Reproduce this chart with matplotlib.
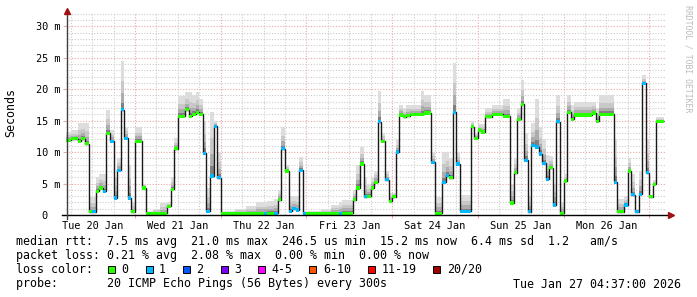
import numpy as np
import matplotlib
# headless run, no display
matplotlib.use('Agg')
import matplotlib.pyplot as plt
from matplotlib.patches import Rectangle

# hours since Tue 20 Jan 00:00, start of each step of the median rtt
step_start = [4, 6, 8, 9, 10, 11, 12, 13, 14, 15,
              16, 17, 18, 19, 20, 21, 22, 23, 24, 26,
              27, 29, 31, 33, 34, 35, 36, 38, 39, 40,
              41, 42, 43, 44, 45, 46, 47, 48, 52, 55,
              58, 60, 61, 63, 64, 65, 66, 67, 68, 69,
              70, 71, 72, 76, 79, 81, 82, 85, 86, 87,
              88, 89, 90, 91, 92, 93, 94, 95, 96, 97,
              98, 99, 100, 101, 104, 105, 107, 108, 110, 111,
              112, 113, 114, 115, 118, 119, 120, 121, 122, 124,
              127, 129, 130, 131, 132, 133, 134, 135, 136, 137,
              138, 139, 140, 141, 142, 143, 144, 145, 146, 147,
              152, 153, 154, 158, 159, 161, 162, 163, 164, 165,
              166, 167, 168, 169, 170]
step_end = 172

# median rtt in ms
median_ms = [11.9, 12.1, 11.7, 12.1, 11.3, 0.5, 0.5, 3.8, 4.3, 3.8,
             13.0, 11.7, 2.7, 7.1, 16.7, 12.2, 2.7, 0.5, 11.7, 4.3,
             0.3, 0.3, 0.3, 1.4, 4.1, 10.5, 15.7, 16.7, 15.7, 16.0,
             16.3, 16.0, 9.8, 0.6, 6.2, 14.1, 5.9, 0.3, 0.3, 0.3,
             0.3, 0.3, 0.3, 0.3, 2.4, 10.5, 7.0, 0.6, 1.0, 0.8,
             7.1, 0.3, 0.3, 0.3, 0.3, 0.3, 0.3, 2.4, 4.3, 8.1,
             2.9, 3.0, 4.3, 5.2, 14.8, 11.7, 5.6, 2.2, 2.9, 10.0,
             15.9, 15.6, 15.8, 16.0, 16.0, 16.2, 8.4, 0.3, 5.2, 6.3,
             5.9, 16.3, 8.1, 0.6, 14.0, 12.2, 13.5, 13.2, 15.6, 16.0,
             15.7, 1.9, 6.7, 15.2, 17.6, 8.7, 0.5, 11.1, 10.8, 9.7,
             8.2, 5.7, 7.5, 1.6, 14.8, 0.3, 5.4, 16.3, 15.2, 15.9,
             16.2, 14.9, 16.0, 5.2, 0.5, 1.6, 7.0, 3.2, 0.5, 3.3,
             20.9, 6.7, 2.9, 4.9, 14.9]

# highest ping of each step (top of the smoke) in ms
smoke_top_ms = [13.2, 13.5, 14.6, 14.6, 14.6, 2.9, 2.9, 6.0, 6.5, 6.5,
                16.7, 13.5, 6.0, 9.0, 24.4, 14.0, 8.0, 2.0, 14.0, 5.0,
                0.6, 1.0, 1.9, 2.0, 6.0, 12.2, 18.9, 19.5, 19.5, 19.0,
                19.5, 18.5, 15.0, 4.3, 16.3, 15.0, 10.0, 0.6, 1.0, 1.4,
                2.0, 2.0, 2.3, 2.5, 4.0, 14.0, 8.0, 3.0, 3.0, 3.0,
                9.2, 0.6, 0.6, 0.9, 1.6, 2.0, 2.4, 4.0, 8.0, 10.8,
                6.0, 5.0, 6.0, 7.0, 19.7, 13.0, 7.0, 3.5, 3.5, 12.0,
                17.5, 17.0, 17.5, 17.5, 19.7, 19.0, 10.0, 2.9, 10.0, 10.0,
                9.0, 24.1, 10.0, 3.2, 15.0, 13.0, 14.5, 14.5, 17.0, 17.5,
                18.4, 5.0, 9.0, 17.0, 21.4, 13.0, 3.0, 14.6, 18.4, 14.0,
                12.0, 9.5, 9.3, 5.0, 19.0, 2.0, 6.5, 19.0, 17.5, 18.0,
                18.0, 17.0, 19.0, 12.0, 2.5, 3.0, 9.0, 6.5, 1.0, 7.0,
                22.2, 12.0, 3.0, 5.5, 15.5]

# lost pings (out of 20) per step
loss_pings = [0, 0, 0, 0, 0, 0, 1, 0, 0, 1,
              0, 1, 1, 1, 1, 1, 1, 0, 0, 0,
              0, 0, 0, 0, 0, 0, 0, 0, 0, 0,
              0, 0, 1, 1, 1, 1, 1, 0, 0, 0,
              0, 1, 0, 1, 0, 1, 0, 1, 1, 1,
              1, 1, 0, 0, 0, 1, 0, 0, 0, 0,
              1, 0, 0, 0, 1, 0, 1, 0, 0, 1,
              0, 0, 0, 0, 0, 0, 1, 0, 1, 1,
              0, 1, 1, 1, 0, 0, 0, 0, 0, 0,
              0, 0, 0, 0, 0, 1, 1, 1, 1, 1,
              1, 1, 0, 1, 1, 0, 0, 0, 0, 0,
              0, 0, 0, 1, 0, 1, 0, 1, 1, 1,
              1, 1, 0, 0, 0]

day_labels = ['Tue 20 Jan', 'Wed 21 Jan', 'Thu 22 Jan', 'Fri 23 Jan',
              'Sat 24 Jan', 'Sun 25 Jan', 'Mon 26 Jan']
y_ticks = [0, 5, 10, 15, 20, 25, 30]
y_labels = ['0  ', '5 m', '10 m', '15 m', '20 m', '25 m', '30 m']

loss_names = ['0', '1', '2', '3', '4-5', '6-10', '11-19', '20/20']
loss_colors = ['#26ff00', '#00b8ff', '#0059ff', '#7e00ff',
               '#ff00ff', '#ff5500', '#ff0000', '#a10000']

line_rtt = 'median rtt:  7.5 ms avg  21.0 ms max  246.5 us min  15.2 ms now  6.4 ms sd  1.2   am/s'
line_loss = 'packet loss: 0.21 % avg  2.08 % max  0.00 % min  0.00 % now'
line_probe = 'probe:       20 ICMP Echo Pings (56 Bytes) every 300s'
stamp = 'Tue Jan 27 04:37:00 2026'

W, H = 697, 297
MONO = 'DejaVu Sans Mono'
plt.rcParams['font.family'] = MONO

fig = plt.figure(figsize=(W / 100, H / 100), dpi=100)
fig.patch.set_facecolor('white')
ax = fig.add_axes([66 / W, 82 / H, 600 / W, 202 / H])
ax.set_xlim(4.67, 172.67)
ax.set_ylim(0, 32.1)

edges = np.array(step_start + [step_end], dtype=float)
starts = edges[:-1]
widths = np.diff(edges)
med = np.array(median_ms)
spread = np.array(smoke_top_ms) - med

# smoke, lighter the further from the median
for frac, shade in [(1.0, '#dddddd'), (0.6, '#c8c8c8'), (0.35, '#acacac'), (0.15, '#808080')]:
    ax.bar(starts, spread * frac, bottom=med, width=widths, align='edge',
           color=shade, linewidth=0, zorder=2)

ax.stairs(med, edges, baseline=None, color='#1a1a1a', linewidth=1.0, zorder=3)

band = 0.25
ax.bar(starts, 2 * band, bottom=med - band, width=widths, align='edge',
       color=[loss_colors[l] for l in loss_pings], linewidth=0, zorder=4)

# grid: red dotted majors, grey dotted minors
ax.set_axisbelow(True)
ax.set_yticks(y_ticks)
ax.set_yticklabels(y_labels)
ax.set_yticks([v for v in range(0, 33) if v % 5], minor=True)
ax.set_xticks(range(24, 169, 24))
ax.set_xticklabels([])
minor_x = [h for h in range(6, 173, 6) if h % 24]
ax.set_xticks(minor_x, labels=[day_labels[h // 24] if h % 24 == 12 else '' for h in minor_x],
              minor=True)
ax.grid(which='major', color='#e8a8a8', linestyle=(0, (1, 1.5)), linewidth=0.8)
ax.grid(which='minor', color='#cccccc', linestyle=(0, (1, 1.5)), linewidth=0.8)
ax.tick_params(which='both', labelsize=7.35, colors='black')
ax.tick_params(axis='y', which='major', length=2, color='#e8a8a8', pad=2)
ax.tick_params(axis='y', which='minor', length=0)
ax.tick_params(axis='x', which='major', length=2, color='#e8a8a8')
ax.tick_params(axis='x', which='minor', length=0, pad=4.5)

for s in ax.spines.values():
    s.set_visible(False)
ax.plot([-0.007, 1.004], [0, 0], transform=ax.transAxes, color='black',
        linewidth=1, clip_on=False, zorder=6)
ax.plot([0.001, 0.001], [-0.02, 1.0], transform=ax.transAxes, color='#404040',
        linewidth=1, clip_on=False, zorder=6)
ax.plot([1.008], [0], marker='>', markersize=4.5, color='#a01010',
        transform=ax.transAxes, clip_on=False, zorder=7)
ax.plot([0.001], [1.01], marker='^', markersize=4.5, color='#a01010',
        transform=ax.transAxes, clip_on=False, zorder=7)

fig.text(11 / W, 1 - 113 / H, 'Seconds', rotation=90, ha='center', va='center', fontsize=8.4)
fig.text(688 / W, 1 - 59 / H, 'RRDTOOL / TOBI OETIKER', rotation=270, ha='center',
         va='center', fontsize=5.9, color='#bbbbbb')

# legend block under the graph
fs = 8.4
fig.text(16 / W, 1 - 241 / H, line_rtt, ha='left', va='center', fontsize=fs)
fig.text(16 / W, 1 - 255 / H, line_loss, ha='left', va='center', fontsize=fs)
fig.text(16 / W, 1 - 269.5 / H, 'loss color:', ha='left', va='center', fontsize=fs)
fig.text(16 / W, 1 - 284 / H, line_probe, ha='left', va='center', fontsize=fs)
fig.text(681 / W, 1 - 284 / H, stamp, ha='right', va='center', fontsize=fs)

bx = 108.3
for name, col in zip(loss_names, loss_colors):
    fig.add_artist(Rectangle((bx / W, 1 - 273 / H), 7 / W, 7 / H, transform=fig.transFigure,
                             facecolor=col, edgecolor='black', linewidth=0.7))
    lx = bx + 13.4
    fig.text(lx / W, 1 - 269.5 / H, name, ha='left', va='center', fontsize=fs)
    bx = lx + len(name) * 7.02 + 17.0

fig.savefig('out.png', dpi=100)
